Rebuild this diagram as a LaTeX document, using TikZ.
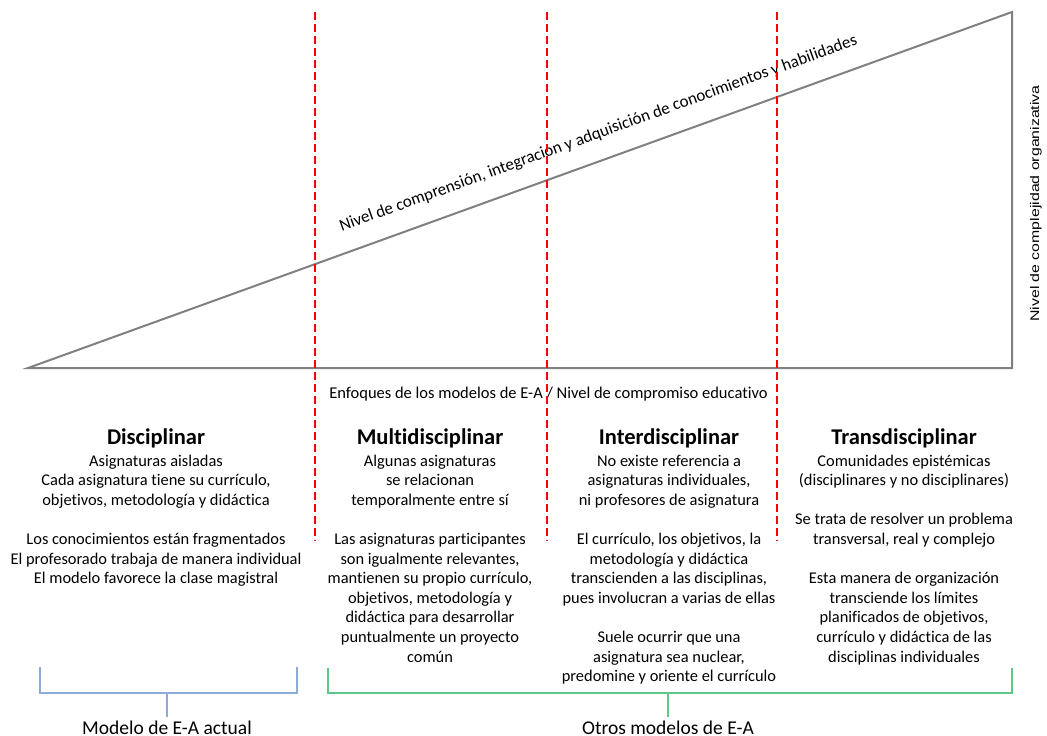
\documentclass[tikz,border=0pt]{standalone}
\usepackage{fontspec}
\setmainfont{Carlito}[Ligatures=NoCommon]
\newfontfamily\arialfont{Liberation Sans}
\usepackage{graphicx}
\definecolor{frameGray}{HTML}{808080}
\definecolor{braceBlue}{HTML}{8EAADB}
\definecolor{braceGreen}{HTML}{5CC88A}
\begin{document}
\begin{tikzpicture}[x=1pt,y=-1pt,
  frame/.style={draw=frameGray, line width=2pt, line join=miter},
  divider/.style={draw=red, line width=2pt, dash pattern=on 8pt off 4pt},
  coltitle/.style={inner sep=0pt, anchor=base, font=\fontsize{22.5}{26}\selectfont\bfseries},
  colbody/.style={inner sep=0pt, anchor=base, font=\fontsize{16.4}{19.6}\selectfont},
  axislabel/.style={inner sep=0pt, anchor=base, font=\fontsize{16.5}{19}\selectfont},
  sidelabel/.style={inner sep=0pt, font=\arialfont\fontsize{12.5}{15}\selectfont},
  bluebrace/.style={draw=braceBlue, line width=1.4pt},
  greenbrace/.style={draw=braceGreen, line width=1.4pt},
  groupname/.style={inner sep=0pt, anchor=base, font=\fontsize{19.5}{23}\selectfont}
]
\useasboundingbox (0,0) rectangle (1047,736);

% rising wedge: commitment axis and complexity axis
\coordinate (origin) at (28,368);
\coordinate (baseEnd) at (1012,368);
\coordinate (apex) at (1012,12);
\draw[frame] (origin) -- (baseEnd) -- (apex) -- cycle;

% label along the slope
\node[axislabel, font=\fontsize{17}{20}\selectfont, rotate=19.89] (slopeLabel) at (600,138)
  {Nivel de comprensión, integración y adquisición de conocimientos y habilidades};

% vertical axis label
\node[sidelabel, rotate=90] (sideLabel) at (1036,203.5)
  {\scalebox{1.27}[1]{Nivel de complejidad organizativa}};

% horizontal axis label
\node[axislabel] (baseLabel) at (548.5,398)
  {Enfoques de los modelos de E-A / Nivel de compromiso educativo};

% dashed separators between the approaches
\coordinate (d1top) at (315,12);  \coordinate (d1bot) at (315,541);
\coordinate (d2top) at (547,12);  \coordinate (d2bot) at (547,541);
\coordinate (d3top) at (777,12);  \coordinate (d3bot) at (777,541);
\draw[divider] (d1top) -- (d1bot);
\draw[divider] (d2top) -- (d2bot);
\draw[divider] (d3top) -- (d3bot);

% column titles
\node[coltitle] (tDis) at (156,444) {Disciplinar};
\node[coltitle] (tMul) at (430,444) {Multidisciplinar};
\node[coltitle] (tInt) at (669,444) {Interdisciplinar};
\node[coltitle] (tTra) at (904,444) {Transdisciplinar};

% column descriptions
\node[colbody] (bDis) at (156,466) {\begin{tabular}[t]{@{}c@{}}
Asignaturas aisladas\\
Cada asignatura tiene su currículo,\\
objetivos, metodología y didáctica\\
\\
Los conocimientos están fragmentados\\
El profesorado trabaja de manera individual\\
El modelo favorece la clase magistral
\end{tabular}};

\node[colbody] (bMul) at (430,466) {\begin{tabular}[t]{@{}c@{}}
Algunas asignaturas\\
se relacionan\\
temporalmente entre sí\\
\\
Las asignaturas participantes\\
son igualmente relevantes,\\
mantienen su propio currículo,\\
objetivos, metodología y\\
didáctica para desarrollar\\
puntualmente un proyecto\\
común
\end{tabular}};

\node[colbody] (bInt) at (669,466) {\begin{tabular}[t]{@{}c@{}}
No existe referencia a\\
asignaturas individuales,\\
ni profesores de asignatura\\
\\
El currículo, los objetivos, la\\
metodología y didáctica\\
transcienden a las disciplinas,\\
pues involucran a varias de ellas\\
\\
Suele ocurrir que una\\
asignatura sea nuclear,\\
predomine y oriente el currículo
\end{tabular}};

\node[colbody] (bTra) at (904,466) {\begin{tabular}[t]{@{}c@{}}
Comunidades epistémicas\\
(disciplinares y no disciplinares)\\
\\
Se trata de resolver un problema\\
transversal, real y complejo\\
\\
Esta manera de organización\\
transciende los límites\\
planificados de objetivos,\\
currículo y didáctica de las\\
disciplinas individuales
\end{tabular}};

% grouping brackets
\node[groupname] (gCur) at (167,734) {Modelo de E-A actual};
\node[groupname] (gOtr) at (668,734) {Otros modelos de E-A};

\coordinate (bl1) at (40,667);  \coordinate (bl2) at (40,693);
\coordinate (br2) at (297,693); \coordinate (br1) at (297,667);
\coordinate (bStem) at (167,693); \coordinate (bTip) at (167,717);
\draw[bluebrace] (bl1) -- (bl2) -- (br2) -- (br1);
\draw[bluebrace] (bStem) -- (bTip);

\coordinate (gl1) at (328,668);  \coordinate (gl2) at (328,693);
\coordinate (gr2) at (1012,693); \coordinate (gr1) at (1012,668);
\coordinate (gStem) at (668,693); \coordinate (gTip) at (668,717);
\draw[greenbrace] (gl1) -- (gl2) -- (gr2) -- (gr1);
\draw[greenbrace] (gStem) -- (gTip);

\end{tikzpicture}
\end{document}
